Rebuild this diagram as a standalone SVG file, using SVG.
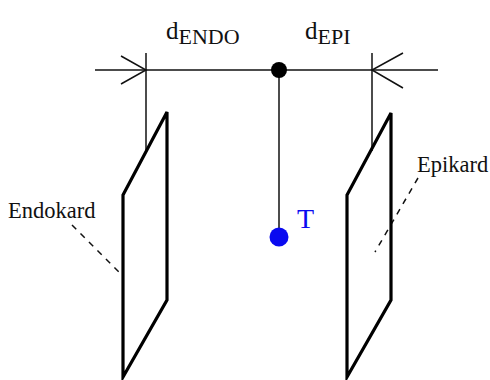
<svg xmlns="http://www.w3.org/2000/svg" width="490" height="380" viewBox="0 0 490 380">
<style>
  text { font-family: "Liberation Serif", "Times New Roman", serif; fill: #111; }
  .thin { stroke: #111; stroke-width: 1.5; fill: none; }
  .plate { stroke: #000; stroke-width: 3.2; fill: none; stroke-linejoin: miter; }
  .dash { stroke: #111; stroke-width: 1.5; stroke-dasharray: 6 6; fill: none; }
</style>
<rect width="490" height="380" fill="#fff"/>
<g id="connectors">
  <line class="thin" x1="95" y1="70" x2="438" y2="70"/>
  <line class="thin" x1="146" y1="53" x2="146" y2="151"/>
  <line class="thin" x1="372" y1="53" x2="372" y2="151"/>
  <polyline class="thin" points="121,56 146,70 121,84"/>
  <polyline class="thin" points="403,53 372,70 403,88"/>
  <line class="thin" x1="279" y1="64" x2="279" y2="237"/>
  <line class="dash" x1="72" y1="225" x2="122" y2="275"/>
  <line class="dash" x1="418" y1="178" x2="375" y2="252"/>
</g>
<g id="dimension-labels">
  <text x="166" y="39" font-size="25">d<tspan font-size="22" dy="5">ENDO</tspan></text>
  <text x="305" y="39" font-size="25">d<tspan font-size="22" dy="5">EPI</tspan></text>
</g>
<g id="center-point">
  <circle cx="279" cy="70" r="8" fill="#000"/>
</g>
<g id="endokard">
  <polygon class="plate" points="123,195 167,112 167,300 123,377"/>
  <text x="8" y="218" font-size="22.5">Endokard</text>
</g>
<g id="epikard">
  <polygon class="plate" points="347,195 391,113 391,300 347,377"/>
  <text x="417" y="172" font-size="22.5">Epikard</text>
</g>
<g id="point-T">
  <circle cx="279" cy="237" r="9.5" fill="#0a0af0"/>
  <text x="297" y="228" font-size="28" style="fill:#0a0af0">T</text>
</g>
</svg>
